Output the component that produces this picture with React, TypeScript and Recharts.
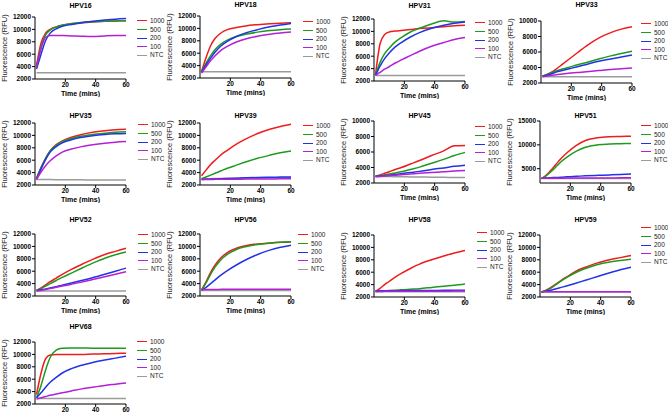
import React from 'react';
import { LineChart, Line, XAxis, YAxis } from 'recharts';

// sampling times (mins) shared by every panel
const TIMES = [1, 4, 7, 10, 14, 18, 24, 30, 38, 46, 53, 60];
const DOSES = ['1000', '500', '200', '100', 'NTC'];
const COLORS = ['#ee1c1c', '#1f9a1f', '#2233e6', '#b320d6', '#9b9b9b'];
const X_TICKS = [20, 40, 60];
const Y_TICKS_12K = [2000, 4000, 6000, 8000, 10000, 12000];
const Y_TICKS_10K = [2000, 4000, 6000, 8000, 10000];
const Y_TICKS_15K = [5000, 10000, 15000];

// each panel: one row per dose, same order as DOSES
const HPV16 = [
  [4200, 7800, 9400, 10000, 10400, 10650, 10900, 11050, 11200, 11300, 11350, 11400],
  [3900, 7200, 9100, 9900, 10400, 10700, 10950, 11100, 11250, 11300, 11350, 11400],
  [3600, 6000, 8200, 9400, 10100, 10500, 10800, 11050, 11300, 11500, 11650, 11750],
  [3800, 6900, 8700, 9000, 9000, 9000, 8950, 8900, 8850, 8950, 9000, 9000],
  [3000, 3000, 3000, 3000, 3000, 3000, 3000, 3000, 3000, 3000, 3000, 3000],
];
const HPV18 = [
  [3000, 5300, 7200, 8400, 9300, 9800, 10150, 10400, 10600, 10750, 10850, 10900],
  [3000, 4400, 5600, 6600, 7500, 8100, 8700, 9050, 9400, 9650, 9800, 9900],
  [2900, 4100, 5200, 6200, 7200, 7900, 8700, 9250, 9800, 10250, 10550, 10800],
  [2800, 3800, 4800, 5600, 6500, 7100, 7800, 8300, 8750, 9050, 9250, 9400],
  [3000, 3000, 3000, 3000, 3000, 3000, 3000, 3000, 3000, 3000, 3000, 3000],
];
const HPV31 = [
  [3000, 8000, 9500, 9900, 10050, 10150, 10300, 10450, 10600, 10750, 10900, 11000],
  [3000, 5000, 6400, 7300, 8300, 9000, 9900, 10500, 11200, 11700, 11500, 11600],
  [2900, 4400, 5600, 6500, 7500, 8200, 9100, 9800, 10500, 11000, 11300, 11500],
  [2900, 3400, 3900, 4300, 4900, 5400, 6100, 6800, 7600, 8200, 8700, 9000],
  [2900, 2900, 2900, 2900, 2900, 2900, 2900, 2900, 2900, 2900, 2900, 2900],
];
const HPV33 = [
  [2900, 3100, 3400, 3800, 4400, 5000, 5900, 6800, 7800, 8500, 8950, 9250],
  [2900, 3100, 3350, 3550, 3800, 4000, 4350, 4650, 5100, 5500, 5800, 6100],
  [2850, 3000, 3200, 3400, 3600, 3800, 4100, 4400, 4800, 5100, 5350, 5600],
  [2800, 2900, 3000, 3050, 3150, 3250, 3350, 3450, 3600, 3750, 3850, 3950],
  [2800, 2800, 2800, 2800, 2800, 2800, 2800, 2800, 2800, 2800, 2800, 2800],
];
const HPV35 = [
  [3100, 4800, 6300, 7500, 8500, 9100, 9700, 10100, 10500, 10750, 10900, 11000],
  [3000, 4800, 6300, 7500, 8400, 9000, 9500, 9850, 10150, 10350, 10500, 10600],
  [2900, 4600, 6100, 7300, 8200, 8800, 9300, 9650, 9950, 10150, 10250, 10300],
  [2900, 4100, 5100, 5900, 6700, 7300, 7800, 8150, 8500, 8750, 8900, 9000],
  [2900, 2900, 2880, 2870, 2860, 2850, 2840, 2830, 2820, 2810, 2800, 2800],
];
const HPV39 = [
  [3500, 4400, 5300, 6000, 6900, 7600, 8600, 9400, 10300, 11000, 11450, 11800],
  [3000, 3300, 3600, 3900, 4300, 4700, 5200, 5700, 6300, 6800, 7200, 7500],
  [2900, 2920, 2950, 2980, 3010, 3050, 3100, 3150, 3200, 3250, 3280, 3300],
  [2900, 2900, 2900, 2910, 2920, 2930, 2940, 2950, 2960, 2980, 2990, 3000],
  [3000, 3000, 3020, 3030, 3050, 3070, 3090, 3110, 3130, 3150, 3170, 3200],
];
const HPV45 = [
  [2900, 3050, 3250, 3450, 3750, 4000, 4450, 4900, 5550, 6150, 6800, 6850],
  [2900, 2950, 3050, 3150, 3300, 3450, 3750, 4050, 4550, 5050, 5550, 5950],
  [2850, 2900, 2950, 3000, 3100, 3200, 3350, 3500, 3750, 3950, 4150, 4300],
  [2800, 2850, 2900, 2950, 3000, 3050, 3150, 3250, 3350, 3450, 3550, 3600],
  [2850, 2850, 2840, 2830, 2820, 2810, 2790, 2770, 2750, 2730, 2710, 2700],
];
const HPV51 = [
  [2900, 3600, 4600, 5700, 7200, 8400, 9900, 10900, 11500, 11700, 11750, 11800],
  [2900, 3500, 4300, 5200, 6500, 7500, 8700, 9500, 10000, 10200, 10250, 10300],
  [3000, 3050, 3100, 3150, 3200, 3300, 3400, 3500, 3600, 3700, 3800, 3900],
  [3000, 3000, 3000, 3000, 3020, 3030, 3040, 3050, 3060, 3070, 3080, 3100],
  [2950, 2950, 2950, 2950, 2950, 2950, 2950, 2950, 2950, 2950, 2950, 2950],
];
const HPV52 = [
  [2900, 3300, 3800, 4300, 4900, 5500, 6300, 7000, 7900, 8700, 9200, 9700],
  [2900, 3200, 3600, 4000, 4500, 5000, 5700, 6400, 7300, 8100, 8650, 9100],
  [2900, 3000, 3150, 3300, 3500, 3750, 4100, 4450, 4950, 5500, 6000, 6500],
  [2800, 2900, 3050, 3200, 3400, 3600, 3900, 4200, 4650, 5100, 5500, 5900],
  [2800, 2800, 2800, 2800, 2800, 2800, 2800, 2800, 2800, 2800, 2800, 2800],
];
const HPV56 = [
  [3000, 4300, 5800, 7000, 8200, 9000, 9700, 10100, 10400, 10550, 10650, 10700],
  [2900, 4100, 5500, 6700, 7900, 8700, 9500, 9950, 10300, 10500, 10650, 10750],
  [2900, 3400, 4000, 4600, 5400, 6100, 7000, 7800, 8700, 9400, 9850, 10200],
  [3050, 3050, 3060, 3060, 3070, 3070, 3080, 3080, 3090, 3090, 3100, 3100],
  [2900, 2900, 2900, 2900, 2900, 2900, 2900, 2900, 2900, 2900, 2900, 2900],
];
const HPV58 = [
  [2900, 3400, 4000, 4500, 5200, 5800, 6600, 7300, 8000, 8600, 9100, 9500],
  [2900, 2950, 3000, 3050, 3100, 3150, 3250, 3350, 3550, 3750, 3900, 4100],
  [3000, 3000, 3010, 3020, 3020, 3030, 3040, 3050, 3060, 3070, 3080, 3100],
  [2900, 2900, 2910, 2910, 2920, 2920, 2930, 2930, 2940, 2940, 2950, 2950],
  [2850, 2850, 2850, 2850, 2850, 2850, 2850, 2850, 2850, 2850, 2850, 2850],
];
const HPV59 = [
  [2800, 3100, 3500, 4000, 4700, 5300, 6200, 6800, 7500, 8000, 8350, 8700],
  [2800, 3050, 3400, 3900, 4600, 5200, 6000, 6600, 7250, 7650, 7900, 8100],
  [2800, 2950, 3100, 3300, 3550, 3800, 4250, 4700, 5300, 5900, 6400, 6800],
  [2850, 2850, 2850, 2850, 2850, 2850, 2850, 2850, 2850, 2850, 2850, 2850],
  [2800, 2800, 2800, 2800, 2800, 2800, 2800, 2800, 2800, 2800, 2800, 2800],
];
const HPV68 = [
  [3500, 7000, 9300, 9900, 10000, 10000, 10000, 10000, 10050, 10100, 10150, 10200],
  [3000, 5000, 7500, 9500, 10700, 11000, 11050, 11050, 11000, 11000, 11000, 11000],
  [3000, 3800, 4700, 5500, 6300, 7000, 7700, 8200, 8700, 9100, 9400, 9700],
  [2800, 3000, 3200, 3400, 3600, 3800, 4100, 4400, 4700, 5000, 5200, 5400],
  [2900, 2900, 2900, 2900, 2900, 2900, 2900, 2900, 2900, 2900, 2900, 2900],
];

const FONT = '"Liberation Sans", Arial, sans-serif';
const PLOT_W = 91;
const PLOT_H = 62;
const Y_AXIS_W = 40;
const X_AXIS_H = 18;
const TOP_PAD = 8;
const RIGHT_PAD = 6;

interface PanelSpec {
  name: string;
  values: number[][];
  yMax: number;
  yTicks: number[];
  left: number; // plot left edge
  top: number; // plot top edge
  titleY: number;
  legendX: number;
  legendY: number;
}

const PANELS: PanelSpec[] = [
  { name: 'HPV16', values: HPV16, yMax: 12000, yTicks: Y_TICKS_12K, left: 35, top: 17, titleY: 6, legendX: 137, legendY: 21 },
  { name: 'HPV18', values: HPV18, yMax: 12000, yTicks: Y_TICKS_12K, left: 200, top: 16, titleY: 5, legendX: 303, legendY: 22 },
  { name: 'HPV31', values: HPV31, yMax: 12000, yTicks: Y_TICKS_12K, left: 374, top: 19, titleY: 6, legendX: 475, legendY: 23 },
  { name: 'HPV33', values: HPV33, yMax: 10000, yTicks: Y_TICKS_10K, left: 541, top: 21, titleY: 5, legendX: 641, legendY: 24 },
  { name: 'HPV35', values: HPV35, yMax: 12000, yTicks: Y_TICKS_12K, left: 35, top: 123, titleY: 116, legendX: 138, legendY: 125 },
  { name: 'HPV39', values: HPV39, yMax: 12000, yTicks: Y_TICKS_12K, left: 200, top: 123, titleY: 116, legendX: 303, legendY: 126 },
  { name: 'HPV45', values: HPV45, yMax: 10000, yTicks: Y_TICKS_10K, left: 374, top: 121, titleY: 116, legendX: 475, legendY: 127 },
  { name: 'HPV51', values: HPV51, yMax: 15000, yTicks: Y_TICKS_15K, left: 540, top: 121, titleY: 116, legendX: 641, legendY: 126 },
  { name: 'HPV52', values: HPV52, yMax: 12000, yTicks: Y_TICKS_12K, left: 35, top: 234, titleY: 220, legendX: 138, legendY: 235 },
  { name: 'HPV56', values: HPV56, yMax: 12000, yTicks: Y_TICKS_12K, left: 200, top: 234, titleY: 220, legendX: 298, legendY: 235 },
  { name: 'HPV58', values: HPV58, yMax: 12000, yTicks: Y_TICKS_12K, left: 374, top: 235, titleY: 220, legendX: 477, legendY: 233 },
  { name: 'HPV59', values: HPV59, yMax: 12000, yTicks: Y_TICKS_12K, left: 540, top: 235, titleY: 220, legendX: 641, legendY: 228 },
  { name: 'HPV68', values: HPV68, yMax: 12000, yTicks: Y_TICKS_12K, left: 35, top: 342, titleY: 327, legendX: 137, legendY: 342 },
];

// NTC first so the dilutions sit on top of it
const DRAW_ORDER = [4, 0, 1, 2, 3];

const tickStyle = { fontSize: 6.5, fontWeight: 'bold' as const, fill: '#000', fontFamily: FONT };

const Panel: React.FC<{ spec: PanelSpec }> = ({ spec }) => {
  const data = TIMES.map((t, i) => {
    const row: Record<string, number> = { t };
    DOSES.forEach((d, k) => {
      row[`d${d}`] = spec.values[k][i];
    });
    return row;
  });

  return (
    <>
      <div
        style={{
          position: 'absolute',
          left: spec.left,
          top: spec.titleY - 5,
          width: PLOT_W,
          textAlign: 'center',
          fontWeight: 'bold',
          fontSize: 7,
          lineHeight: '10px',
        }}
      >
        {spec.name}
      </div>

      <div style={{ position: 'absolute', left: spec.left - Y_AXIS_W, top: spec.top - TOP_PAD }}>
        <LineChart
          width={Y_AXIS_W + PLOT_W + RIGHT_PAD}
          height={TOP_PAD + PLOT_H + X_AXIS_H}
          data={data}
          margin={{ top: TOP_PAD, right: RIGHT_PAD, bottom: 0, left: 0 }}
        >
          <XAxis
            dataKey="t"
            type="number"
            domain={[0, 60]}
            ticks={X_TICKS}
            height={X_AXIS_H}
            tickSize={3}
            tickMargin={0}
            tick={tickStyle}
            axisLine={{ stroke: '#000', strokeWidth: 1 }}
            tickLine={{ stroke: '#000' }}
            label={{
              value: 'Time (mins)',
              position: 'insideBottom',
              offset: 1,
              style: { fontSize: 7, fontWeight: 'bold', fill: '#000', fontFamily: FONT },
            }}
          />
          <YAxis
            type="number"
            domain={[2000, spec.yMax]}
            ticks={spec.yTicks}
            width={Y_AXIS_W}
            tickSize={3}
            tickMargin={1}
            tick={tickStyle}
            axisLine={{ stroke: '#000', strokeWidth: 1 }}
            tickLine={{ stroke: '#000' }}
            label={{
              value: 'Fluorescence (RFU)',
              angle: -90,
              position: 'insideLeft',
              offset: 9,
              style: { fontSize: 7.5, fill: '#222', fontFamily: FONT, textAnchor: 'middle' },
            }}
          />
          {DRAW_ORDER.map((k) => (
            <Line
              key={DOSES[k]}
              type="monotone"
              dataKey={`d${DOSES[k]}`}
              stroke={COLORS[k]}
              strokeWidth={1.5}
              dot={false}
              isAnimationActive={false}
            />
          ))}
        </LineChart>
      </div>

      <div style={{ position: 'absolute', left: spec.legendX, top: spec.legendY - 4.3 }}>
        {DOSES.map((d, k) => (
          <div key={d} style={{ display: 'flex', alignItems: 'center', height: 8.6 }}>
            <span style={{ width: 10, height: 0, borderTop: `1.5px solid ${COLORS[k]}`, marginRight: 3 }} />
            <span style={{ fontSize: 6.5, lineHeight: '8px', color: '#222' }}>{d}</span>
          </div>
        ))}
      </div>
    </>
  );
};

export default function App() {
  return (
    <div
      style={{
        position: 'absolute',
        left: 0,
        top: 0,
        width: 668,
        height: 416,
        background: '#fff',
        fontFamily: FONT,
        overflow: 'hidden',
      }}
    >
      {PANELS.map((p) => (
        <Panel key={p.name} spec={p} />
      ))}
    </div>
  );
}
